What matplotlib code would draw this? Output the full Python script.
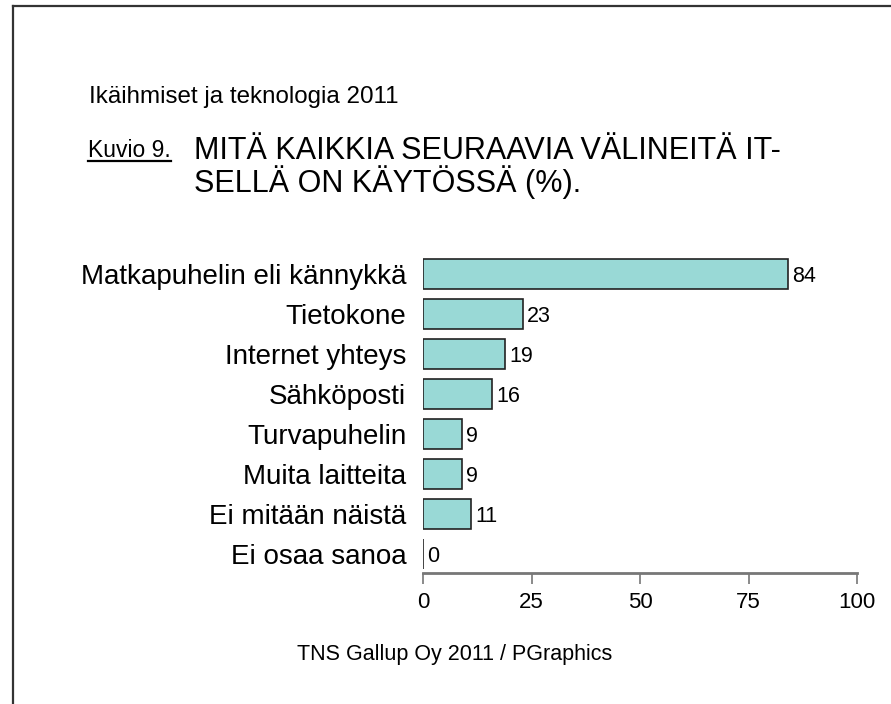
import numpy as np
import matplotlib
matplotlib.use('Agg')
import matplotlib.pyplot as plt
from matplotlib.lines import Line2D

plt.rcParams['font.family'] = ['Liberation Sans', 'DejaVu Sans']

categories = ['Matkapuhelin eli kännykkä', 'Tietokone', 'Internet yhteys',
              'Sähköposti', 'Turvapuhelin', 'Muita laitteita',
              'Ei mitään näistä', 'Ei osaa sanoa']
values = [84, 23, 19, 16, 9, 9, 11, 0]
xticks = [0, 25, 50, 75, 100]

W, H = 891, 704
fig = plt.figure(figsize=(W/100.0, H/100.0), dpi=100)

# frame lines (left and top)
fig.add_artist(Line2D([12.5/W, 12.5/W], [0, 1 - 6.0/H], transform=fig.transFigure,
                      color='#333333', lw=1.6))
fig.add_artist(Line2D([12.5/W, 1], [1 - 6.0/H, 1 - 6.0/H], transform=fig.transFigure,
                      color='#333333', lw=1.6))

# headings
fig.text(89.0/W, 1 - 103.0/H, 'Ikäihmiset ja teknologia 2011', fontsize=17.4,
         va='baseline', ha='left')
fig.text(88.0/W, 1 - 157.0/H, 'Kuvio 9.', fontsize=16.5, va='baseline', ha='left')
fig.add_artist(Line2D([88.0/W, 171.0/W], [1 - 161.0/H, 1 - 161.0/H],
                      transform=fig.transFigure, color='black', lw=1.6))
fig.text(194.0/W, 1 - 159.0/H, 'MITÄ KAIKKIA SEURAAVIA VÄLINEITÄ IT-', fontsize=22,
         va='baseline', ha='left')
fig.text(194.0/W, 1 - 192.0/H, 'SELLÄ ON KÄYTÖSSÄ (%).', fontsize=22,
         va='baseline', ha='left')

# axes
left, right = 423.0, 857.0
top, bottom = 255.0, 573.0
ax = fig.add_axes([left/W, 1 - bottom/H, (right-left)/W, (bottom-top)/H])

y = np.arange(len(categories))
ax.barh(y, values, height=0.75, color='#99D9D6', edgecolor='#222222', linewidth=1.2)
for yi, v in zip(y, values):
    ax.text(v + 1.0, yi + 0.06, str(v), fontsize=15.5, va='center', ha='left')

ax.set_xlim(0, 100)
ax.set_ylim(len(categories) - 0.525, -0.475)
ax.set_yticks(y)
ax.set_yticklabels(categories, fontsize=20)
ax.tick_params(axis='y', length=0, pad=12)
ax.set_xticks(xticks)
ax.set_xticklabels([str(t) for t in xticks], fontsize=16)
ax.tick_params(axis='x', length=8, width=1.2, color='#777777', pad=6)
for s in ['top', 'right', 'left']:
    ax.spines[s].set_visible(False)
ax.spines['bottom'].set_color('#777777')
ax.spines['bottom'].set_linewidth(2)

fig.text(297.0/W, 1 - 660.0/H, 'TNS Gallup Oy 2011 / PGraphics', fontsize=15.5,
         va='baseline', ha='left')

fig.savefig('out.png', dpi=100)
